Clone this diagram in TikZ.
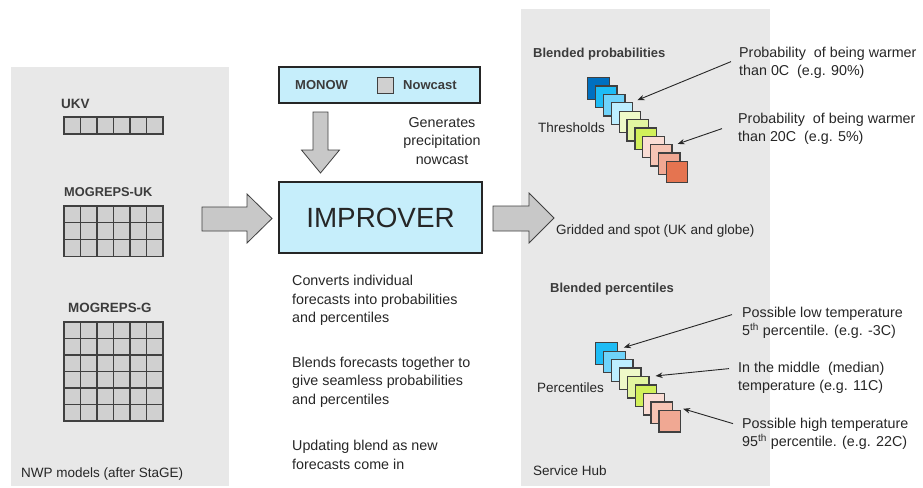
\documentclass[tikz,border=0pt]{standalone}
\usepackage{fontspec}
\setmainfont{Liberation Sans}
\usetikzlibrary{arrows.meta}
\definecolor{panelgray}{HTML}{E8E8E8}
\definecolor{cellgray}{HTML}{D0D0D0}
\definecolor{lineg}{HTML}{404040}
\definecolor{boxblue}{HTML}{C6EEFB}
\definecolor{txtc}{HTML}{262626}
\definecolor{arrowgray}{HTML}{C8C8C8}
\definecolor{ca}{HTML}{0070C0}
\definecolor{cb}{HTML}{1EBCF5}
\definecolor{cc}{HTML}{6FD3FA}
\definecolor{cd}{HTML}{BDEEFF}
\definecolor{ce}{HTML}{EEF9C8}
\definecolor{cf}{HTML}{E2F5A0}
\definecolor{cg}{HTML}{D2F05A}
\definecolor{ch}{HTML}{FADDD5}
\definecolor{ci}{HTML}{F6C4B4}
\definecolor{cj}{HTML}{F0A893}
\definecolor{ck}{HTML}{E57450}
\tikzset{
  cell/.style={fill=cellgray, draw=lineg, line width=1.1pt},
  sq/.style={draw=lineg, line width=1.3pt, minimum size=21.5pt, inner sep=0pt},
  bigbox/.style={draw=txtc, line width=1.8pt, fill=boxblue, inner sep=0pt},
  blockarrow/.style={fill=arrowgray, draw=lineg, line width=0.8pt, line join=miter},
  body/.style={font=\fontsize{14.3}{18.5}\selectfont, text=txtc, inner sep=0pt, align=left, anchor=north west},
  lbl/.style={font=\fontsize{13.5}{16}\selectfont, text=txtc, inner sep=0pt, anchor=base west},
  bold/.style={font=\fontsize{13}{16}\selectfont\bfseries, text=txtc!90!white, inner sep=0pt, anchor=base west},
  ptr/.style={-{Stealth[length=7pt,width=5.5pt]}, draw=txtc, line width=0.9pt}
}
\begin{document}
\begin{tikzpicture}[x=1pt,y=-1pt]
\useasboundingbox (0,0) rectangle (923,487);
% panels
\fill[panelgray] (11,67) rectangle (229,486);
\fill[panelgray] (521,9) rectangle (770,486);

% left panel labels and grids
\node[bold, font=\fontsize{13.5}{16}\selectfont\bfseries] (ukv) at (61,108) {UKV};
\foreach \i in {0,...,5}
  \draw[cell] ({64+\i*16.5},117) rectangle ++(16.5,17);
\node[bold, font=\fontsize{12.8}{16}\selectfont\bfseries] (mogukl) at (64,196) {MOGREPS-UK};
\foreach \i in {0,...,5}
  \foreach \j in {0,1,2}
    \draw[cell] ({64+\i*16.5},{206+\j*16.7}) rectangle ++(16.5,16.7);
\node[bold, font=\fontsize{13.4}{16}\selectfont\bfseries] (moggl) at (68,312) {MOGREPS-G};
\foreach \i in {0,...,5}
  \foreach \j in {0,...,5}
    \draw[cell] ({64+\i*16.5},{322+\j*16.5}) rectangle ++(16.5,16.5);
\node[lbl] (nwp) at (21,477) {NWP models (after StaGE)};

% block arrows
\draw[blockarrow] (202,207) -- (247,207) -- (247,194) -- (272,218.5) -- (247,243) -- (247,231) -- (202,231) -- cycle;
\draw[blockarrow] (313,112) -- (328,112) -- (328,150) -- (339.5,150) -- (320.5,173) -- (301.5,150) -- (313,150) -- cycle;
\draw[blockarrow] (493,206) -- (529,206) -- (529,193) -- (554,218) -- (529,243) -- (529,231) -- (493,231) -- cycle;

% MONOW box
\node[bigbox, minimum width=201pt, minimum height=36pt] (monow) at (379.5,85) {};
\node[bold] (monowl) at (295,89) {MONOW};
\node[cell, minimum size=16pt, inner sep=0pt, line width=1pt] (nowsq) at (385,85) {};
\node[bold] (nowl) at (403,89) {Nowcast};
\node[body, align=center, anchor=north] (gen) at (442,117) {Generates\\precipitation\\nowcast};

% IMPROVER
\node[bigbox, minimum width=203pt, minimum height=71pt, font=\fontsize{27.8}{30}\selectfont, text=txtc] (imp) at (380.5,217.5) {IMPROVER};

\node[body] (conv) at (292,275) {Converts individual\\forecasts into probabilities\\and percentiles};
\node[body] (blend) at (292,356.5) {Blends\ forecasts together to\\give seamless probabilities\\and percentiles};
\node[body] (upd) at (292,440) {Updating\ blend\ as new\\forecasts come in};

% right panel: probabilities
\node[bold] (bprob) at (533,57) {Blended probabilities};
\node[lbl] (thr) at (538,132) {Thresholds};
\foreach \c [count=\k] in {ca,cb,cc,cd,ce,cf,cg,ch,ci,cj,ck}
  \node[sq, fill=\c] (s\k) at ({598.5+(\k-1)*7.85},{88.5+(\k-1)*8.35}) {};
\node[lbl] (grid) at (556,234) {Gridded and spot (UK and globe)};

\node[body] (t1) at (739,46.5) {Probability\ \ of being warmer\\than 0C\ \ (e.g. 90\%)};
\node[body] (t2) at (738,112.5) {Probability\ \ of being warmer\\than 20C\ \ (e.g. 5\%)};
\draw[ptr] ([shift={(-8,-1)}]t1.west) -- ([shift={(4,-2)}]s4.north east);
\draw[ptr] ([shift={(-16,0)}]t2.west) -- ([shift={(5,0)}]s9.north east);

% right panel: percentiles
\node[bold] (bperc) at (550,292) {Blended percentiles};
\node[lbl] (perc) at (537,392) {Percentiles};
\foreach \c [count=\k] in {cb,cc,cd,ce,cf,cg,ch,ci,cj}
  \node[sq, fill=\c] (q\k) at ({606.5+(\k-1)*7.9},{353.5+(\k-1)*8.46}) {};
\node[lbl] (hub) at (533,475) {Service Hub};

\node[body] (t3) at (742,306.5) {Possible low temperature\\5\textsuperscript{th} percentile. (e.g. -3C)};
\node[body] (t4) at (738,361.5) {In the middle\ \ (median)\\temperature (e.g. 11C)};
\node[body] (t5) at (742,417.5) {Possible high temperature\\95\textsuperscript{th} percentile. (e.g. 22C)};
\draw[ptr] ([shift={(-10,-8)}]t3.west) -- ([shift={(6,-6)}]q1.east);
\draw[ptr] ([shift={(-9,-9)}]t4.west) -- ([xshift=6pt]q5.north east);
\draw[ptr] ([shift={(-9,-10)}]t5.west) -- ([shift={(2,-1)}]q9.north east);
\end{tikzpicture}
\end{document}
